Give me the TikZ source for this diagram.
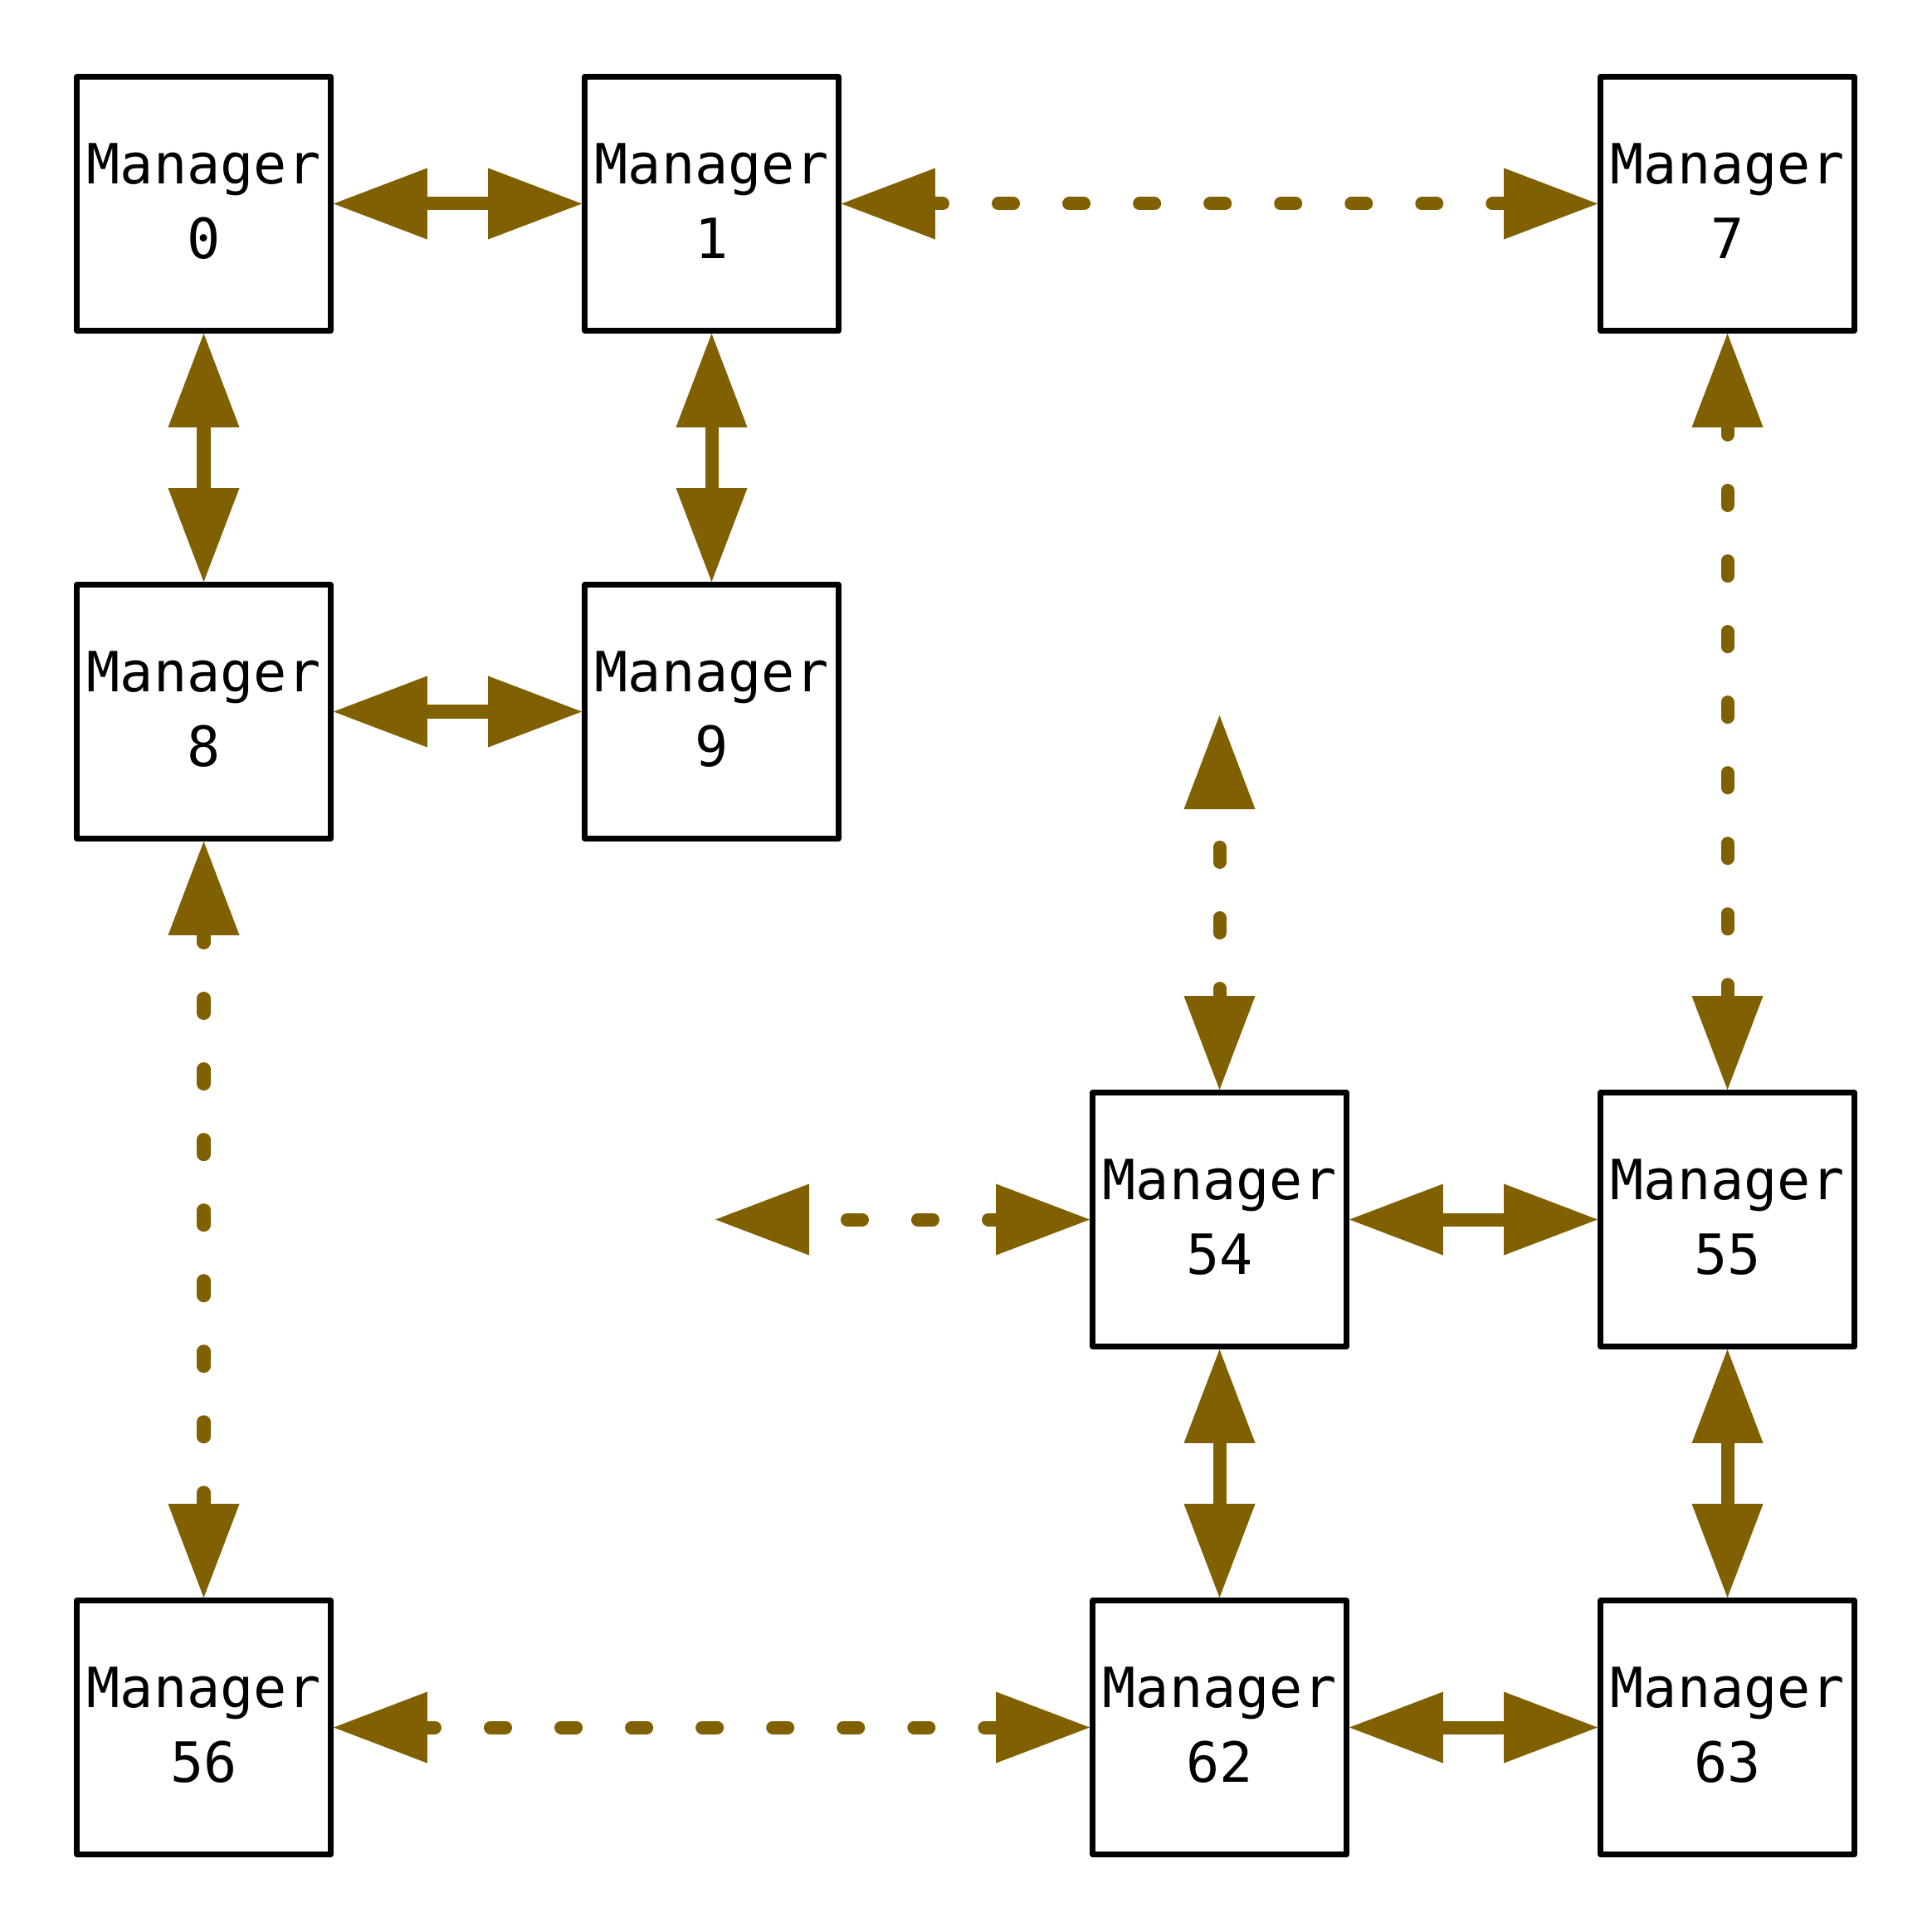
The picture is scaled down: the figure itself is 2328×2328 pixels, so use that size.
\documentclass[tikz,border=0pt]{standalone}
\usepackage{fontspec}
\setmonofont{DejaVu Sans Mono}
\usetikzlibrary{arrows.meta}
\definecolor{edgecol}{RGB}{128,96,0}
\begin{document}
\begin{tikzpicture}[x=0.01cm,y=-0.01cm,
  mgr/.style={draw,line width=0.07cm,line join=round,minimum size=3.056cm,
    inner sep=0pt,align=center,text depth=0.06cm,
    font=\fontsize{19pt}{25.6pt}\selectfont\ttfamily},
  link/.style={draw=edgecol,line width=0.16cm,
    >={Triangle[length=1.13cm,width=0.86cm,line width=0pt]},<->},
  dlink/.style={link,line cap=round,dash pattern=on 0.18cm off 0.67cm,dash phase=0.09cm}]
\useasboundingbox (0,0) rectangle (2328,2328);
\node[mgr] (m0)  at (245.5,245.5)   {Manager\\0};
\node[mgr] (m1)  at (857.5,245.5)   {Manager\\1};
\node[mgr] (m7)  at (2081.5,245.5)  {Manager\\7};
\node[mgr] (m8)  at (245.5,857.5)   {Manager\\8};
\node[mgr] (m9)  at (857.5,857.5)   {Manager\\9};
\node[mgr] (m54) at (1469.5,1469.5) {Manager\\54};
\node[mgr] (m55) at (2081.5,1469.5) {Manager\\55};
\node[mgr] (m56) at (245.5,2081.5)  {Manager\\56};
\node[mgr] (m62) at (1469.5,2081.5) {Manager\\62};
\node[mgr] (m63) at (2081.5,2081.5) {Manager\\63};
\coordinate (f1) at (1469.5,862);
\coordinate (f2) at (862,1469.5);
\draw[link] (m0) -- (m1);
\draw[link] (m0) -- (m8);
\draw[link] (m1) -- (m9);
\draw[link] (m8) -- (m9);
\draw[link] (m54) -- (m55);
\draw[link] (m54) -- (m62);
\draw[link] (m55) -- (m63);
\draw[link] (m62) -- (m63);
\draw[dlink] (m1) -- (m7);
\draw[dlink] (m7) -- (m55);
\draw[dlink] (m8) -- (m56);
\draw[dlink] (m56) -- (m62);
\draw[dlink] (m54) -- (f1);
\draw[dlink] (m54) -- (f2);
\end{tikzpicture}
\end{document}
